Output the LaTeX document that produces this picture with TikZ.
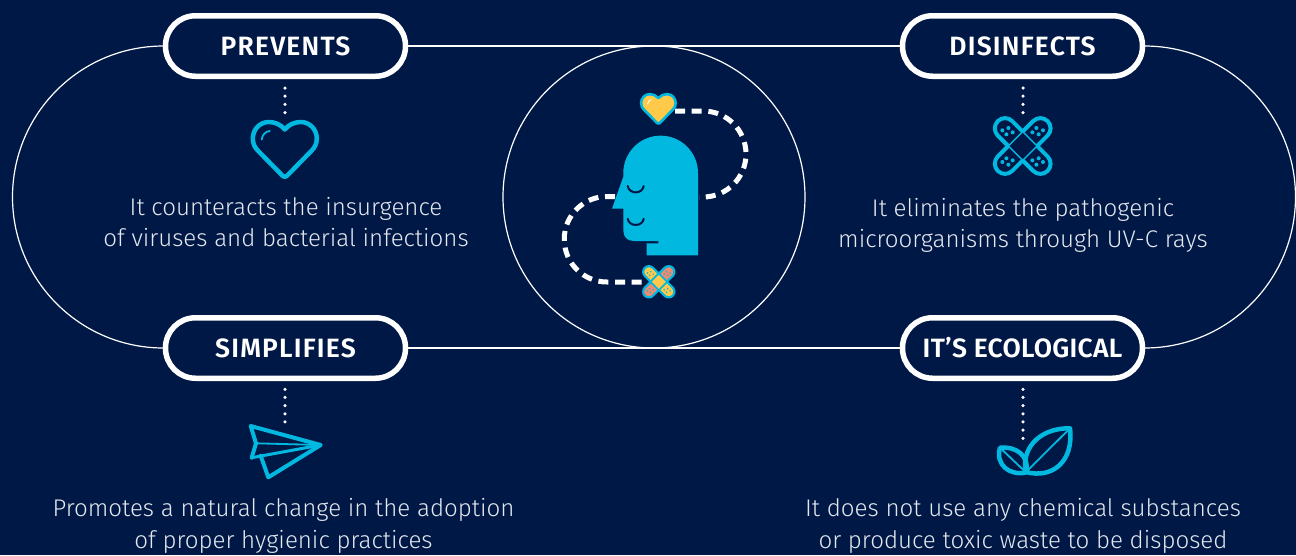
\documentclass[tikz,border=0pt]{standalone}
\usepackage{fontspec}
\setmainfont{Fira Sans Light}
\newfontfamily\pillfont[LetterSpace=4.5]{Fira Sans SemiBold}
\newfontfamily\pillfonttight[LetterSpace=1]{Fira Sans SemiBold}
\definecolor{bgnavy}{HTML}{001846}
\definecolor{iconblue}{HTML}{00B8E0}
\definecolor{warmyellow}{HTML}{FFC94A}
\definecolor{salmon}{HTML}{F28B6E}
\definecolor{paletext}{HTML}{E4E8EF}
\tikzset{
  pill/.style={draw=white,line width=5.5pt,fill=bgnavy,rounded corners=30pt,minimum width=240pt,minimum height=60.5pt,outer sep=0pt,inner sep=0pt,text=white,font=\pillfont\fontsize{26.5}{30}\selectfont},
  ring/.style={draw=white,line width=1.2pt},
  dotline/.style={white,line width=3.5pt,line cap=round,dash pattern=on 0pt off 8.17pt},
  dashline/.style={white,line width=5pt,dash pattern=on 10pt off 6.7pt},
  iconline/.style={iconblue,line width=4.5pt,line join=round,line cap=round},
  thinicon/.style={iconblue,line width=1.8pt,line cap=round,line join=round},
  blurb/.style={text=paletext,align=center,font=\fontsize{24.1}{31.5}\selectfont,inner sep=0pt}
}
\newcommand{\heartoutline}{(0,-21) .. controls (-4,-26) and (-10,-28.5) .. (-16,-28.5) .. controls (-25,-28.5) and (-32,-21) .. (-32,-12) .. controls (-32,-7) and (-30,-3) .. (-27,0) -- (-2,25.5) .. controls (-1,26.5) and (1,26.5) .. (2,25.5) -- (27,0) .. controls (30,-3) and (32,-7) .. (32,-12) .. controls (32,-21) and (25,-28.5) .. (16,-28.5) .. controls (10,-28.5) and (4,-26) .. (0,-21) -- cycle}
\newcommand{\banddots}[2]{%
  \foreach \dx/\dy in {-20.3/-15.7,-14.3/-18,-10/-13.7,-16.3/-11.7,9.7/-13.7,13.7/-18,20.3/-15.7,16/-11.7,-20.3/16,-16.3/12.3,-10/14.3,-14.3/18.7,9.7/14.3,16/12.3,20.3/16,13.7/18.7}
    \fill[#1] (\dx pt,-\dy pt) circle[radius=#2pt];}
\begin{document}
\begin{tikzpicture}[x=1pt,y=-1pt]
\useasboundingbox (0,0) rectangle (1296,555);
\fill[bgnavy] (0,0) rectangle (1296,555);

% frame
\node[pill] (prevents) at (285.5,46) {PREVENTS};
\node[pill] (disinfects) at (1022.5,46) {DISINFECTS};
\node[pill] (simplifies) at (285.5,348) {SIMPLIFIES};
\node[pill,font=\pillfonttight\fontsize{26.5}{30}\selectfont] (ecological) at (1022.5,348) {IT’S ECOLOGICAL};
\draw[ring] (prevents.east) -- (disinfects.west);
\draw[ring] (simplifies.east) -- (ecological.west);
\draw[ring] (prevents.west) -- ++(-2,0) arc[start angle=270,end angle=90,radius=151];
\draw[ring] (disinfects.east) -- ++(2,0) arc[start angle=-90,end angle=90,radius=151];
\coordinate (hub) at (654,197);
\draw[ring] (hub) circle (151);

% dotted stems
\coordinate (s1a) at (285,88);   \coordinate (s1b) at (285,113);
\coordinate (s2a) at (1023,88);  \coordinate (s2b) at (1023,113);
\coordinate (s3a) at (285,389.3);\coordinate (s3b) at (285,424);
\coordinate (s4a) at (1023,389.3);\coordinate (s4b) at (1023,439.5);
\draw[dotline] (s1a) -- (s1b);
\draw[dotline] (s2a) -- (s2b);
\draw[dotline] (s3a) -- (s3b);
\draw[dotline] (s4a) -- (s4b);

% texts
\node[blurb] (t1) at (286,222.3) {It counteracts the insurgence\\of viruses and bacterial infections};
\node[blurb] (t2) at (1023,225.5) {It eliminates the pathogenic\\microorganisms through UV-C rays};
\node[blurb] (t3) at (283.5,526) {Promotes a natural change in the adoption\\of proper hygienic practices};
\node[blurb] (t4) at (1023,526) {It does not use any chemical substances\\or produce toxic waste to be disposed};

% heart icon
\begin{scope}[shift={(284.8,150.5)}]
  \draw[iconline] \heartoutline;
  \draw[iconblue,line width=1.8pt,line cap=round] (-23,-11) .. controls (-23,-15) and (-19,-19.5) .. (-15,-19.5);
\end{scope}

% bandage icon
\begin{scope}[shift={(1022.7,146)}]
  \foreach \a in {45,135,225,315}
    \draw[iconblue,line width=4pt,rotate=\a,line join=round] (10.2,-10.2) -- (25,-10.2) arc[start angle=-90,end angle=90,radius=10.2] -- (10.2,10.2);
  \draw[iconblue,line width=1.4pt,rotate=45] (-10.2,-10.2) rectangle (10.2,10.2);
  \banddots{iconblue}{2}
\end{scope}

% paper plane
\coordinate (pn) at (320.7,445);
\coordinate (pt) at (250.7,426);
\coordinate (pm) at (256,443.3);
\coordinate (pl) at (251.7,457.7);
\coordinate (pf) at (260.7,455.7);
\coordinate (pb) at (268.3,477.3);
\draw[iconline,line width=4pt] (pl) -- (pm) -- (pt) -- (pn) -- (pb) -- (pf);
\draw[iconblue,line width=3pt,line cap=round] (pl) -- (pn);
\draw[thinicon] (pm) -- (pn);

% leaf
\coordinate (lb) at (1026,472);
\coordinate (lt) at (1070,428.3);
\coordinate (sb) at (1026,472.5);
\coordinate (st) at (1000,447.7);
\draw[iconline] (lb) .. controls (1021,452) and (1036,428) .. (lt) .. controls (1074,462) and (1052,479) .. (lb) -- cycle;
\draw[iconline] (st) .. controls (1015,446) and (1030,455) .. (sb) .. controls (1010,476) and (995,465) .. (st) -- cycle;
\draw[thinicon] (lb) -- (lt);
\draw[thinicon] (sb) -- (st);

% central path
\coordinate (d1a) at (675,111);
\coordinate (d2a) at (648,282);
\draw[dashline] (d1a) -- (703,111) arc[start angle=-90,end angle=90,radius=43] -- (699,197);
\draw[dashline] (615,196.5) -- (607,196.5) arc[start angle=270,end angle=90,radius=42.75] -- (d2a);

% head
\fill[iconblue] (698,255.3) -- (698,173) arc[start angle=0,end angle=-180,radius=37.35] -- (623.3,176.7) -- (612,208.7) -- (623.3,208.7) -- (623.3,230) .. controls (623.3,237) and (627,241) .. (634,241) -- (658.3,241) -- (658.3,243.3) -- (646.7,243.3) -- (646.7,255.3) -- cycle;
\draw[bgnavy,line width=2pt,line cap=round] (627.7,186) .. controls (629,194.5) and (642.5,194.5) .. (643.7,186);
\draw[bgnavy,line width=2pt,line cap=round] (627.7,218.7) .. controls (629,227) and (642.5,227) .. (643.7,218.7);

% yellow heart
\begin{scope}[shift={(658.4,109.5)},scale=0.54]
  \draw[iconblue,fill=warmyellow,line width=2.6pt,line join=round] \heartoutline;
  \draw[white,line width=0.8pt,line cap=round] (-20,-10) .. controls (-20,-14) and (-17,-18) .. (-13,-18);
\end{scope}

% coloured bandage
\begin{scope}[shift={(658.8,281.8)},scale=0.56]
  \foreach \a/\c in {45/salmon,135/warmyellow,225/salmon,315/warmyellow}
    \filldraw[draw=iconblue,fill=\c,line width=2.2pt,rotate=\a,line join=round] (10.2,-10.2) -- (25,-10.2) arc[start angle=-90,end angle=90,radius=10.2] -- (10.2,10.2) -- cycle;
  \filldraw[draw=iconblue,fill=warmyellow,line width=1.2pt,rotate=45] (-10.2,-10.2) rectangle (10.2,10.2);
  \banddots{iconblue}{1.5}
\end{scope}
\end{tikzpicture}
\end{document}
